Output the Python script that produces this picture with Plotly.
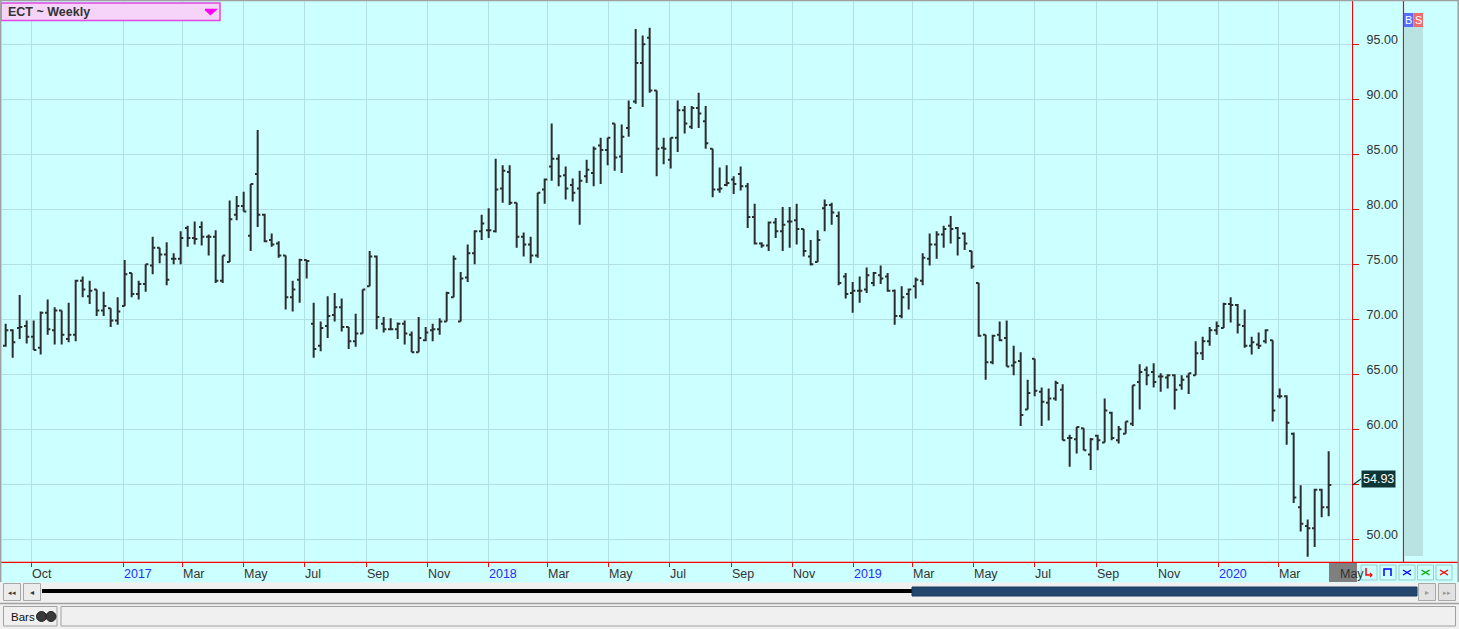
import pandas as pd
import plotly.graph_objects as go

# weekly ECT bars, Sep 2016 .. Apr 2020
first_week = "2016-09-05"

opens = [67.6, 69.0, 69.2, 69.4, 68.4, 67.4, 70.6, 69.0, 70.8, 68.2,
         68.6, 73.5, 72.1, 72.7, 70.8, 71.0, 69.9, 71.2, 74.2, 72.3,
         73.2, 74.9, 76.5, 75.9, 75.5, 75.5, 78.3, 77.4, 78.4, 77.5,
         77.5, 73.5, 75.2, 79.5, 80.3, 77.6, 83.2, 79.5, 77.2, 76.9,
         75.8, 72.0, 73.6, 75.4, 69.6, 67.6, 69.4, 70.4, 71.1, 69.3,
         68.0, 68.7, 73.0, 75.7, 69.6, 69.1, 69.1, 69.6, 68.6, 67.0,
         68.1, 69.0, 69.1, 69.8, 72.0, 69.8, 73.8, 76.0, 78.0, 78.1,
         78.0, 81.9, 83.4, 80.6, 77.5, 76.8, 75.8, 81.8, 83.9, 84.6,
         83.1, 82.2, 81.9, 83.0, 83.3, 85.8, 85.4, 87.8, 84.8, 87.4,
         89.8, 93.3, 95.6, 90.8, 85.6, 84.5, 86.5, 89.0, 87.5, 89.2,
         88.0, 85.5, 81.8, 82.2, 82.7, 83.2, 82.1, 79.3, 76.9, 76.7,
         78.8, 78.0, 78.9, 79.0, 78.2, 75.7, 75.2, 80.1, 80.4, 79.4,
         73.9, 72.4, 72.6, 72.7, 73.3, 74.0, 73.9, 72.6, 70.3, 72.3,
         73.0, 73.5, 75.5, 76.8, 77.7, 78.5, 78.3, 77.8, 76.2, 73.3,
         68.6, 66.1, 68.6, 68.3, 65.8, 66.2, 61.8, 66.4, 63.4, 62.4,
         62.8, 63.6, 59.2, 59.1, 60.1, 57.7, 59.4, 58.8, 61.5, 59.0,
         59.6, 60.5, 64.3, 65.4, 65.2, 64.8, 64.7, 64.9, 64.0, 64.8,
         64.9, 66.9, 68.0, 69.0, 69.2, 71.4, 71.3, 69.4, 67.6, 67.7,
         68.0, 68.1, 63.0, 63.0, 59.6, 52.9, 51.2, 51.0, 54.5, 52.9]

highs = [69.6, 69.1, 72.2, 69.9, 69.9, 70.7, 71.8, 71.1, 70.8, 71.5,
         73.6, 73.9, 73.5, 72.7, 72.5, 71.0, 72.0, 75.4, 74.2, 73.5,
         75.0, 77.5, 76.5, 77.0, 76.0, 78.0, 78.5, 78.9, 78.9, 77.7,
         78.1, 75.8, 80.8, 81.2, 81.6, 82.3, 87.2, 79.6, 77.8, 77.1,
         75.8, 73.5, 75.5, 75.4, 71.5, 69.8, 72.1, 72.4, 71.9, 69.3,
         70.5, 72.7, 76.2, 75.8, 70.2, 70.1, 69.7, 69.9, 68.9, 70.2,
         69.3, 69.6, 70.1, 72.5, 75.8, 74.3, 76.8, 78.1, 79.5, 80.1,
         84.6, 84.0, 84.0, 80.6, 77.9, 77.5, 81.5, 82.8, 87.8, 85.0,
         83.9, 82.8, 83.5, 84.5, 85.7, 86.5, 86.5, 87.8, 87.7, 89.9,
         96.4, 95.8, 96.5, 90.8, 86.5, 86.5, 89.9, 89.4, 89.4, 90.6,
         89.4, 85.5, 83.8, 84.0, 83.0, 83.9, 82.4, 80.5, 77.0, 78.9,
         79.2, 80.2, 80.2, 80.5, 78.2, 77.2, 78.1, 80.9, 80.6, 79.8,
         74.2, 73.4, 73.9, 74.7, 74.3, 74.9, 74.2, 72.7, 73.0, 72.8,
         73.8, 76.0, 77.8, 78.0, 78.5, 79.4, 78.4, 77.9, 76.2, 73.3,
         68.6, 68.6, 69.8, 69.9, 67.6, 67.0, 64.5, 66.4, 63.8, 63.7,
         64.4, 64.1, 59.5, 60.2, 60.1, 59.2, 59.5, 62.8, 61.6, 60.3,
         60.7, 64.0, 65.9, 65.7, 66.0, 65.1, 65.0, 65.0, 64.9, 65.1,
         68.0, 68.4, 69.3, 69.8, 71.5, 72.0, 71.4, 70.9, 68.4, 68.8,
         69.1, 68.1, 63.7, 63.1, 59.7, 54.9, 51.8, 54.6, 54.6, 58.0]

lows = [67.5, 66.5, 68.2, 67.8, 67.2, 66.8, 68.6, 67.7, 67.7, 67.9,
        68.0, 72.0, 71.4, 70.3, 70.3, 69.3, 69.5, 71.2, 72.0, 71.8,
        72.5, 74.1, 75.1, 73.1, 75.0, 75.0, 76.6, 76.8, 76.7, 75.8,
        73.3, 73.3, 75.2, 79.0, 79.8, 76.2, 78.4, 77.0, 76.6, 75.6,
        70.9, 70.7, 71.5, 73.7, 66.5, 67.1, 68.3, 69.8, 68.9, 67.3,
        67.5, 68.7, 73.0, 69.1, 68.8, 69.1, 68.2, 67.7, 67.0, 67.0,
        68.0, 68.0, 68.6, 69.8, 72.0, 69.8, 73.4, 75.0, 77.2, 77.4,
        77.9, 80.6, 80.4, 76.5, 75.7, 75.1, 75.6, 80.5, 82.6, 82.1,
        80.9, 80.7, 78.6, 82.4, 82.1, 82.3, 84.0, 83.5, 83.3, 86.6,
        89.6, 89.3, 90.6, 83.0, 84.1, 83.7, 85.2, 86.9, 87.3, 87.4,
        85.5, 81.1, 81.5, 82.1, 81.4, 81.7, 78.3, 76.8, 76.5, 76.2,
        77.4, 76.2, 76.5, 76.8, 75.7, 74.9, 75.2, 78.0, 78.6, 73.1,
        71.9, 70.6, 71.5, 72.4, 73.0, 73.2, 72.5, 69.5, 70.1, 70.9,
        71.9, 73.1, 74.9, 75.5, 76.5, 76.9, 75.8, 76.3, 74.6, 68.4,
        64.5, 65.9, 68.0, 65.7, 64.9, 60.3, 61.8, 63.0, 60.3, 60.8,
        62.6, 59.0, 56.6, 57.8, 58.1, 56.3, 58.1, 58.8, 59.0, 58.7,
        59.6, 60.3, 61.8, 64.0, 63.8, 63.4, 63.7, 61.8, 63.6, 63.2,
        64.9, 66.3, 67.6, 68.6, 69.2, 69.7, 68.7, 67.4, 66.8, 67.3,
        67.8, 60.7, 62.8, 58.6, 53.3, 50.7, 48.4, 49.3, 52.0, 52.1]

closes = [69.0, 67.9, 69.3, 68.4, 67.2, 70.6, 69.1, 70.8, 68.6, 68.6,
          73.5, 72.7, 72.6, 70.8, 71.2, 69.9, 70.7, 74.1, 72.3, 73.2,
          75.0, 76.5, 75.9, 73.6, 75.5, 77.4, 77.4, 77.3, 77.5, 77.5,
          73.5, 75.8, 79.1, 80.3, 79.8, 82.3, 79.5, 77.1, 76.8, 75.8,
          72.0, 72.7, 75.4, 75.3, 67.3, 69.2, 70.3, 71.1, 69.3, 68.0,
          68.7, 72.7, 75.7, 70.2, 69.1, 69.1, 69.6, 68.7, 67.0, 68.3,
          68.8, 69.1, 69.8, 72.4, 75.5, 73.7, 76.0, 78.0, 78.7, 78.1,
          81.8, 83.5, 80.6, 77.5, 76.8, 75.8, 81.5, 82.7, 84.6, 83.0,
          81.9, 81.5, 82.6, 83.6, 85.5, 85.4, 86.5, 84.7, 86.6, 89.2,
          93.3, 95.0, 90.8, 85.5, 85.5, 86.5, 89.0, 87.8, 89.2, 88.7,
          86.0, 81.8, 81.9, 82.4, 82.3, 82.1, 79.3, 76.9, 76.7, 78.8,
          78.0, 78.6, 78.9, 78.2, 76.2, 75.0, 77.2, 80.4, 79.7, 73.3,
          72.3, 72.6, 72.6, 74.0, 74.2, 73.7, 72.6, 70.3, 72.0, 72.7,
          73.6, 75.6, 76.8, 77.7, 78.2, 78.2, 77.4, 76.9, 74.8, 68.5,
          66.1, 68.5, 68.1, 65.7, 66.1, 61.3, 63.3, 63.5, 62.5, 62.8,
          64.2, 59.0, 59.2, 60.2, 58.1, 59.1, 59.0, 61.7, 59.2, 60.0,
          60.7, 64.0, 65.2, 64.9, 64.3, 64.8, 64.9, 63.6, 64.5, 65.1,
          66.9, 68.0, 69.0, 69.4, 71.4, 71.3, 69.5, 67.6, 67.9, 67.6,
          69.0, 61.7, 63.0, 60.6, 53.8, 51.4, 51.0, 54.5, 52.9, 54.93]

# month ticks along the bottom axis
tick_dates = ["2016-10-01", "2017-01-01", "2017-03-01", "2017-05-01", "2017-07-01",
              "2017-09-01", "2017-11-01", "2018-01-01", "2018-03-01", "2018-05-01",
              "2018-07-01", "2018-09-01", "2018-11-01", "2019-01-01", "2019-03-01",
              "2019-05-01", "2019-07-01", "2019-09-01", "2019-11-01", "2020-01-01",
              "2020-03-01", "2020-05-01"]
tick_labels = ["Oct", "2017", "Mar", "May", "Jul", "Sep", "Nov", "2018", "Mar", "May",
               "Jul", "Sep", "Nov", "2019", "Mar", "May", "Jul", "Sep", "Nov", "2020",
               "Mar", "May"]

price_ticks = [50, 55, 60, 65, 70, 75, 80, 85, 90, 95]

dates = pd.date_range(first_week, periods=len(opens), freq="7D")
last = closes[-1]
# the last-price tag sits on top of the nearest axis label, so that one is hidden
price_text = ["" if abs(v - last) < 2 else f"{v:.2f}" for v in price_ticks]

W, H = 1459, 629
L, R, T, B = 2, 1352, 1, 562   # plot area in pixels


def px(x):
    return (x - L) / (R - L)


def py(y):
    return (B - y) / (B - T)


BG = "#ccffff"
GRID = "#b3e0e5"
RED = "#ff0000"
FONT = "Liberation Sans"

fig = go.Figure()
fig.add_trace(go.Ohlc(x=dates, open=opens, high=highs, low=lows, close=closes,
                      increasing_line_color="#2d2d2d", decreasing_line_color="#2d2d2d",
                      line_width=2, tickwidth=0.38, hoverinfo="skip", showlegend=False))

shapes = []
annotations = []


def rect(x0, y0, x1, y1, fill, line=None, lw=1):
    shapes.append(dict(type="rect", xref="paper", yref="paper", x0=px(x0), x1=px(x1),
                       y0=py(y0), y1=py(y1), fillcolor=fill,
                       line=dict(color=line or fill, width=lw if line else 0), layer="above"))


def seg(x0, y0, x1, y1, color, lw=1):
    shapes.append(dict(type="line", xref="paper", yref="paper", x0=px(x0), x1=px(x1),
                       y0=py(y0), y1=py(y1), line=dict(color=color, width=lw), layer="above"))


def path(d_pts, color, lw=1.3):
    d = "M" + " L".join(f"{px(a)},{py(b)}" for a, b in d_pts)
    shapes.append(dict(type="path", xref="paper", yref="paper", path=d,
                       line=dict(color=color, width=lw), layer="above"))


def text(x, y, s, color="#333333", size=12, anchor="left", bold=False):
    annotations.append(dict(xref="paper", yref="paper", x=px(x), y=py(y), text=s,
                            showarrow=False, xanchor=anchor, yanchor="middle",
                            font=dict(family=FONT, size=size, color=color,
                                      weight="bold" if bold else "normal")))


# x axis labels, left aligned at their ticks, years in blue
for d, lab in zip(tick_dates, tick_labels):
    if lab == "May" and d.startswith("2020"):
        rect(1329, 563, 1357, 582, "#7f7f7f")
    annotations.append(dict(xref="x", yref="paper", x=d, y=py(573.5), text=lab,
                            showarrow=False, xanchor="left", yanchor="middle", xshift=-2,
                            font=dict(family=FONT, size=12.5,
                                      color="#2a2aff" if lab.isdigit() else "#333333")))

# right panel: red divider, BS column
seg(1403.5, 0, 1403.5, 562, RED, 1.2)
rect(1404, 27, 1423, 556, "#b9e3e3")
rect(1404, 13, 1413.5, 27, "#5a6bff")
rect(1413.5, 13, 1423, 27, "#f06b6b")
text(1408.7, 20, "B", "white", 11, "center")
text(1418.2, 20, "S", "white", 11, "center")

# bottom axis line runs to the right edge
seg(0, 562.3, 1458, 562.3, RED, 1.2)

# small tool buttons under the price axis
btn_x = [1361, 1380, 1399, 1417.5, 1436]
for i, bx in enumerate(btn_x):
    rect(bx, 565, bx + 16, 580, BG, "#9ccccc", 1)
cx = btn_x[0] + 5
path([(cx, 568), (cx, 575), (cx + 6, 575)], "#ff0000", 1.5)
path([(cx + 4, 573), (cx + 6, 575), (cx + 4, 577)], "#ff0000", 1.2)
cx = btn_x[1] + 4
path([(cx, 576), (cx, 569), (cx + 7, 569), (cx + 7, 576)], "#0000ff", 1.5)
for bx, col in zip(btn_x[2:], ["#0000ff", "#00aa00", "#ff0000"]):
    path([(bx + 4, 570), (bx + 8, 572.5), (bx + 12, 570)], col, 1.3)
    path([(bx + 4, 575), (bx + 8, 572.5), (bx + 12, 575)], col, 1.3)

# scroll bar row
rect(0, 582.5, W, 602, "#f0f0f0")
for bx in [3.5, 23.5]:
    rect(bx, 583.5, bx + 17, 600.5, "#ececec", "#a8a8a8", 1)
text(12, 592, "◂◂", "#333333", 7, "center")
text(32, 592, "◂", "#333333", 8, "center")
seg(42, 591, 912, 591, "#000000", 4)
shapes.append(dict(type="rect", xref="paper", yref="paper", x0=px(912), x1=px(1417),
                   y0=py(596), y1=py(587), fillcolor="#23466f",
                   line=dict(color="#1b3a5e", width=1), layer="above"))
for bx in [1418.5, 1438.5]:
    rect(bx, 583.5, bx + 17, 600.5, "#e2e2e2", "#a8a8a8", 1)
text(1427, 592, "▸", "#9a9a9a", 8, "center")
text(1447, 592, "▸▸", "#9a9a9a", 7, "center")

# status bar
rect(0, 602, W, H, "#f0f0f0")
seg(0, 603.5, W, 603.5, "#a0a0a0", 1.5)
rect(3.5, 606.5, 57, 626, "#f0f0f0", "#a0a0a0", 1)
rect(61, 606.5, 1455.5, 626, "#f0f0f0", "#a0a0a0", 1)
text(8.5, 616.5, "Bars", "#111111", 11.5)
for ccx in [41.5, 51]:
    shapes.append(dict(type="circle", xref="paper", yref="paper", x0=px(ccx - 5),
                       x1=px(ccx + 5), y0=py(621.5), y1=py(611.5), fillcolor="#3a3a3a",
                       line=dict(color="#222222", width=1), layer="above"))

# title box, top left
rect(1, 3, 220, 20.5, "#f6d3f8", "#e048e0", 1.5)
text(6, 12, "ECT ~ Weekly", "#333333", 12.5, bold=True)
path([(205, 9.5), (216, 9.5), (210.5, 14.5), (205, 9.5)], "#ff00ff", 1.5)
shapes[-1]["fillcolor"] = "#ff00ff"

# window borders
seg(0, 0.5, W, 0.5, "#a0a0a0", 1.5)
seg(0.7, 0, 0.7, 582, "#a0a0a0", 1.5)
seg(1458.2, 0, 1458.2, 582, "#a0a0a0", 1.5)

# last price tag on the axis
annotations.append(dict(xref="paper", yref="y", x=px(1361), y=last, yshift=6,
                        text=f"{last:.2f}", showarrow=False, xanchor="left", yanchor="middle",
                        bgcolor="#0f3636", borderpad=1,
                        font=dict(family=FONT, size=12.5, color="white")))
shapes.append(dict(type="line", xref="paper", yref="y", x0=px(1352.5), x1=px(1361),
                   y0=last, y1=last + 0.55, line=dict(color="#0f3636", width=1.2)))

start = dates[0] - pd.Timedelta(hours=88)
end = dates[-1] + pd.Timedelta(hours=560)

fig.update_layout(
    width=W, height=H,
    margin=dict(l=L, r=W - R, t=T, b=H - B),
    paper_bgcolor=BG, plot_bgcolor=BG,
    showlegend=False,
    font=dict(family=FONT, color="#333333"),
    shapes=shapes, annotations=annotations,
    xaxis=dict(type="date", range=[start, end], tickvals=tick_dates, showticklabels=False,
               showgrid=True, gridcolor=GRID, gridwidth=1, showline=True, linecolor=RED,
               linewidth=1, ticks="outside", ticklen=4, tickcolor=RED,
               rangeslider=dict(visible=False), zeroline=False, fixedrange=True),
    yaxis=dict(side="right", range=[47.93, 98.94], tickvals=price_ticks, ticktext=price_text,
               showgrid=True, gridcolor=GRID, gridwidth=1, showline=True, linecolor=RED,
               linewidth=1.2, ticks="outside", ticklen=6, tickcolor=RED,
               ticklabelstandoff=5, ticklabelshift=-5,
               tickfont=dict(family=FONT, size=12.5, color="#333333"),
               zeroline=False, fixedrange=True),
)

# the page body has a default margin; drop it so the chart fills the window
fig.write_html("out.html", config={"displayModeBar": False},
               post_script="document.body.style.margin='0';document.body.style.overflow='hidden';")
